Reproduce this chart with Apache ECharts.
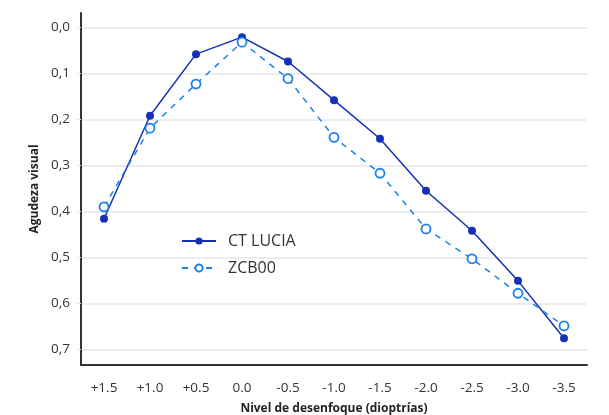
<!DOCTYPE html>
<html><head><meta charset="utf-8">
<script src="https://cdn.jsdelivr.net/npm/echarts@6/dist/echarts.min.js"></script>
<style>html,body{margin:0;padding:0;background:#fff}#c{width:609px;height:415px}</style>
</head><body><div id="c"></div>
<script>
const categories = ['+1.5','+1.0','+0.5','0.0','-0.5','-1.0','-1.5','-2.0','-2.5','-3.0','-3.5'];
const ctLucia = [0.416,0.192,0.058,0.021,0.074,0.158,0.242,0.355,0.442,0.551,0.676];
const zcb00  = [0.390,0.219,0.123,0.032,0.111,0.239,0.317,0.438,0.503,0.578,0.649];
const yTicks = [0,0.1,0.2,0.3,0.4,0.5,0.6,0.7];

const chart = echarts.init(document.getElementById('c'));
const font = '"Open Sans", "Noto Sans", sans-serif';
chart.setOption({
  animation:false,
  textStyle:{fontFamily:font},
  grid:{left:81,right:22,top:13,bottom:50,containLabel:false,outerBoundsMode:'none'},
  legend:{
    orient:'vertical', left:176, top:228, padding:5, itemWidth:34, itemHeight:9, itemGap:11,
    textStyle:{fontFamily:font,fontSize:16,color:'#333',padding:[0,0,0,7]},
    data:['CT LUCIA','ZCB00']
  },
  xAxis:{
    type:'category', data:categories, boundaryGap:true,
    name:'Nivel de desenfoque (dioptrías)', nameLocation:'middle', nameGap:38,
    nameTextStyle:{fontFamily:font,fontWeight:'bold',fontSize:12,color:'#222'},
    axisLine:{onZero:false,lineStyle:{color:'#333',width:2}},
    axisTick:{show:false},
    axisLabel:{color:'#333',fontSize:13.5,margin:16,fontFamily:font}
  },
  yAxis:{
    type:'value', inverse:true, min:-0.0315, max:0.734,
    name:'Agudeza visual', nameLocation:'middle', nameGap:36, nameRotate:90,
    nameTextStyle:{fontFamily:font,fontWeight:'bold',fontSize:12,color:'#222'},
    axisLine:{show:true,lineStyle:{color:'#333',width:2}},
    axisTick:{show:true,length:4,lineStyle:{color:'#e3e7ec'},customValues:yTicks},
    axisLabel:{color:'#333',fontSize:13.5,margin:11,fontFamily:font,customValues:yTicks,
      formatter:v=>v.toFixed(1).replace('.',',')},
    splitLine:{show:true,lineStyle:{color:'#e3e7ec',width:1.5}}
  },
  series:[
    {name:'CT LUCIA',type:'line',data:ctLucia,symbol:'circle',symbolSize:8,
     itemStyle:{color:'#1530b8'},lineStyle:{color:'#1530b8',width:1.5}},
    {name:'ZCB00',type:'line',data:zcb00,symbol:'circle',symbolSize:9,
     itemStyle:{color:'#fff',borderColor:'#1a80ec',borderWidth:1.8},
     lineStyle:{color:'#1a80ec',width:1.5,type:[6,6]}}
  ]
});
</script></body></html>
